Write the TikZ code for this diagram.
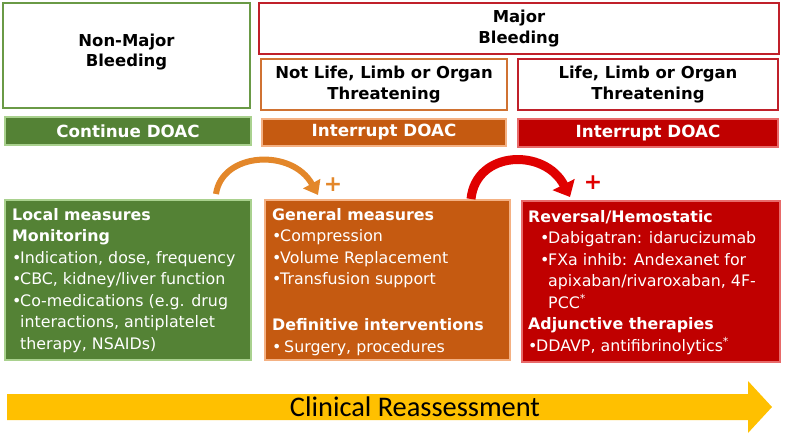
\documentclass[tikz,border=0pt]{standalone}
\usepackage{fontspec}
\setmainfont{DejaVu Sans}
\newfontfamily\calib{Carlito}
\usetikzlibrary{arrows.meta}
\definecolor{gborder}{HTML}{6A9A46}
\definecolor{gfill}{HTML}{548235}
\definecolor{gglow}{HTML}{A9D18E}
\definecolor{ofill}{HTML}{C55A11}
\definecolor{oborder}{HTML}{D07232}
\definecolor{oglow}{HTML}{F4B183}
\definecolor{rfill}{HTML}{C00000}
\definecolor{rborder}{HTML}{C0202A}
\definecolor{rglow}{HTML}{E86A6A}
\definecolor{gold}{HTML}{FFC000}
\definecolor{oarrow}{HTML}{E3872A}
\definecolor{rarrow}{HTML}{E00000}
\newcommand\bul{\makebox[8bp][l]{\textbullet}}
\newcommand\ind{\hspace*{8bp}}
\tikzset{
  hdr/.style={draw, line width=2.5bp, fill=white, align=center, inner sep=0pt,
    font=\fontsize{16.5}{21}\selectfont\bfseries},
  bar/.style={draw, line width=2bp, text=white, inner sep=0pt,
    font=\fontsize{16.8}{19}\selectfont\bfseries},
  body/.style={draw, line width=2bp, inner sep=0pt},
  txt/.style={anchor=north west, align=left, inner sep=0pt, text=white,
    font=\fontsize{15.9}{21.6}\selectfont},
  curved/.style={line width=#1, line cap=butt},
  plus/.style={font=\fontsize{22}{22}\selectfont\bfseries, inner sep=0pt}
}
\begin{document}
\begin{tikzpicture}[x=1bp,y=-1bp]
\useasboundingbox (0,0) rectangle (789,437);
% headers
\node[hdr, draw=gborder, minimum width=247bp, minimum height=105bp] (nm) at (126.5,55.5) {};
\node[align=center, inner sep=0pt, font=\fontsize{16.5}{21}\selectfont\bfseries] (nmt) at (126.5,52) {Non-Major\\Bleeding};
\node[hdr, draw=rborder, minimum width=520bp, minimum height=51bp] (mj) at (519,28.5) {Major\\Bleeding};
\node[hdr, draw=oborder, minimum width=246bp, minimum height=51bp] (nl) at (384,84.5) {Not Life, Limb or Organ\\Threatening};
\node[hdr, draw=rborder, minimum width=260bp, minimum height=51bp] (ll) at (648,84.5) {Life, Limb or Organ\\Threatening};
% bars
\node[bar, fill=gfill, draw=gglow, minimum width=246bp, minimum height=28bp] (cd) at (128,131) {Continue DOAC};
\node[bar, fill=ofill, draw=oglow, minimum width=244bp, minimum height=27bp] (io) at (384,132.5) {Interrupt DOAC};
\node[bar, fill=rfill, draw=rglow, minimum width=260bp, minimum height=28bp] (ir) at (648,133) {Interrupt DOAC};
% body boxes
\node[body, fill=gfill, draw=gglow, minimum width=246bp, minimum height=160bp] (gb) at (128,280) {};
\node[body, fill=ofill, draw=oglow, minimum width=245bp, minimum height=160bp] (ob) at (387.5,280) {};
\node[body, fill=rfill, draw=rglow, minimum width=258bp, minimum height=161bp] (rb) at (651,281.5) {};
\node[txt] (gt) at (12,208) {\textbf{Local measures}\\\textbf{Monitoring}\\
\bul Indication, dose, frequency\\\bul CBC, kidney/liver function\\
\bul Co-medications (e.g. drug\\\ind interactions, antiplatelet\\\ind therapy, NSAIDs)};
\node[txt] (ot) at (272,208) {\textbf{General measures}\\\bul Compression\\
\bul Volume Replacement\\\bul Transfusion support\\[24.5bp]
\textbf{Definitive interventions}\\\bul\hspace{4bp}Surgery, procedures};
\node[txt] (rt) at (528,210) {\textbf{Reversal/Hemostatic}\\
\hspace*{12bp}\bul Dabigatran: idarucizumab\\
\hspace*{12bp}\bul FXa inhib: Andexanet for\\
\hspace*{20bp}apixaban/rivaroxaban, 4F-\\
\hspace*{20bp}PCC\textsuperscript{*}\\
\textbf{Adjunctive therapies}\\
\bul DDAVP, antifibrinolytics\textsuperscript{*}};
% curved arrows
\coordinate (oa1) at (216,194);
\coordinate (oa2) at (318,195);
\coordinate (ra1) at (471,199);
\coordinate (ra2) at (570,197);
\draw[curved=6bp, draw=oarrow, -{Triangle[length=13bp,width=19bp]}] (oa1) .. controls (222,152) and (292,148) .. (oa2);
\draw[curved=9bp, draw=rarrow, -{Triangle[length=14bp,width=24bp]}] (ra1) .. controls (476,150) and (545,148) .. (ra2);
\node[plus, text=oarrow] (p1) at (333,185) {+};
\node[plus, text=rarrow] (p2) at (593,183) {+};
% bottom arrow
\fill[gold] (7,394) -- (748,394) -- (748,381) -- (772,407) -- (748,433) -- (748,420) -- (7,420) -- cycle;
\node[font=\calib\fontsize{28.5}{30}\selectfont, inner sep=0pt] (cr) at (415,407) {Clinical Reassessment};
\end{tikzpicture}
\end{document}
